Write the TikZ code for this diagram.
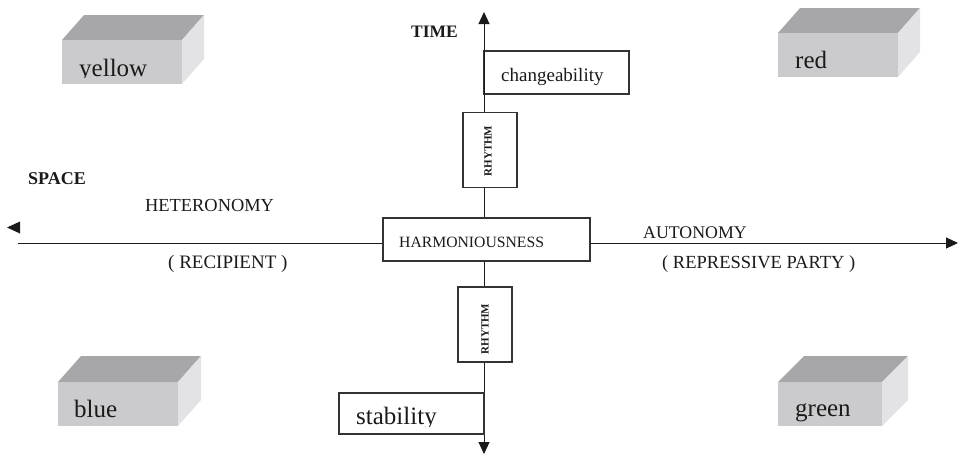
\documentclass[tikz,border=0pt]{standalone}
\usepackage{fontspec}
\setmainfont{Liberation Serif}
\usetikzlibrary{arrows.meta}
\definecolor{inkc}{HTML}{1A1A1A}
\definecolor{linec}{HTML}{333333}
\definecolor{topc}{HTML}{A7A7A9}
\definecolor{frontc}{HTML}{CBCBCD}
\definecolor{sidec}{HTML}{E3E3E5}
\tikzset{
  lbl/.style={inner sep=0pt, text=inkc, font=\fontsize{18}{20}\selectfont, anchor=base west},
  boldlbl/.style={inner sep=0pt, text=inkc, font=\fontsize{17.5}{20}\selectfont\bfseries, anchor=base west},
  cubelbl/.style={inner sep=0pt, text=inkc, font=\fontsize{25}{28}\selectfont, anchor=base west},
  framebox/.style={draw=linec, line width=1.3pt, fill=white, inner sep=0pt},
  rhy/.style={inner sep=0pt, text=inkc, rotate=90, font=\fontsize{11}{12}\selectfont\bfseries},
  axis/.style={draw=inkc, line width=1pt},
  tip/.style={-{Triangle[length=12pt,width=11pt]}},
  cubetop/.style={fill=topc},
  cubefront/.style={fill=frontc},
  cubeside/.style={fill=sidec}
}
\begin{document}
\begin{tikzpicture}[x=1pt,y=-1pt]
\useasboundingbox (0,0) rectangle (960,455);

% 3D blocks
\foreach \xa/\ya/\xb/\yb/\dx/\dy in {62/40/182/84/22/-25, 778/33/898/77/22/-25, 58/382/178/426/23/-26, 778/382/882/426/26/-26}{
  \fill[cubetop] (\xa,\ya) -- ++(\dx,\dy) -- (\xb+\dx,\ya+\dy) -- (\xb,\ya) -- cycle;
  \fill[cubeside] (\xb,\ya) -- (\xb+\dx,\ya+\dy) -- (\xb+\dx,\yb+\dy) -- (\xb,\yb) -- cycle;
  \fill[cubefront] (\xa,\ya) rectangle (\xb,\yb);
}
\begin{scope}
  \clip (62,40) rectangle (182,77.5);
  \node[cubelbl] (yellow) at (79,76) {yellow};
\end{scope}
\node[cubelbl] (red) at (795,68) {red};
\node[cubelbl] (blue) at (74,417) {blue};
\node[cubelbl] (green) at (795,416) {green};

% axis coordinates
\coordinate (ttip) at (484,12);
\coordinate (btip) at (484,454);
\coordinate (lend) at (18,243);
\coordinate (rtip) at (958,243);

% boxes
\node[framebox, minimum width=145pt, minimum height=43pt] (chg) at (556.5,72.5) {};
\node[framebox, minimum width=54pt, minimum height=75pt] (rh1) at (490,150) {};
\node[framebox, minimum width=207pt, minimum height=43pt] (hm) at (486.5,239.5) {};
\node[framebox, minimum width=54pt, minimum height=75pt] (rh2) at (485,324.5) {};
\node[framebox, minimum width=145pt, minimum height=41pt] (stb) at (411.5,413.5) {};

% axis lines
\draw[axis, tip] (ttip |- chg.north) -- (ttip);
\draw[axis] (ttip |- chg.north) -- (ttip |- rh1.north);
\draw[axis] (ttip |- rh1.south) -- (ttip |- hm.north);
\draw[axis] (ttip |- hm.south) -- (ttip |- rh2.north);
\draw[axis, tip] (ttip |- rh2.south) -- (btip);
\draw[axis] (lend) -- (hm.west |- lend);
\draw[axis, tip] (hm.east |- rtip) -- (rtip);
\fill[inkc] (20,221.5) -- (7,227.5) -- (20,233.5) -- cycle;

% redraw box frames on top
\draw[draw=linec, line width=1.3pt] (chg.north west) rectangle (chg.south east);
\draw[draw=linec, line width=1.3pt] (stb.north west) rectangle (stb.south east);

% texts
\node[lbl, font=\fontsize{19}{21}\selectfont] (chgt) at (501,81) {changeability};
\node[lbl, font=\fontsize{15.7}{18}\selectfont] (hmt) at (399,247) {HARMONIOUSNESS};
\node[rhy] (rh1t) at (488,151) {RHYTHM};
\node[rhy] (rh2t) at (485,329) {RHYTHM};
\begin{scope}
  \clip (stb.north west) rectangle (stb.east |- 0,426);
  \node[cubelbl] (stbt) at (356,424) {stability};
\end{scope}
\node[boldlbl] (time) at (411,37) {TIME};
\node[boldlbl, font=\fontsize{18}{20}\selectfont\bfseries] (space) at (28,184) {SPACE};
\node[lbl, font=\fontsize{18.4}{20}\selectfont] (het) at (145,211) {HETERONOMY};
\node[lbl, font=\fontsize{19}{21}\selectfont] (rec) at (168,268) {( RECIPIENT )};
\node[lbl, font=\fontsize{17.8}{20}\selectfont] (aut) at (643,238) {AUTONOMY};
\node[lbl, font=\fontsize{18.5}{20}\selectfont] (rep) at (662,268) {( REPRESSIVE PARTY )};
\end{tikzpicture}
\end{document}
